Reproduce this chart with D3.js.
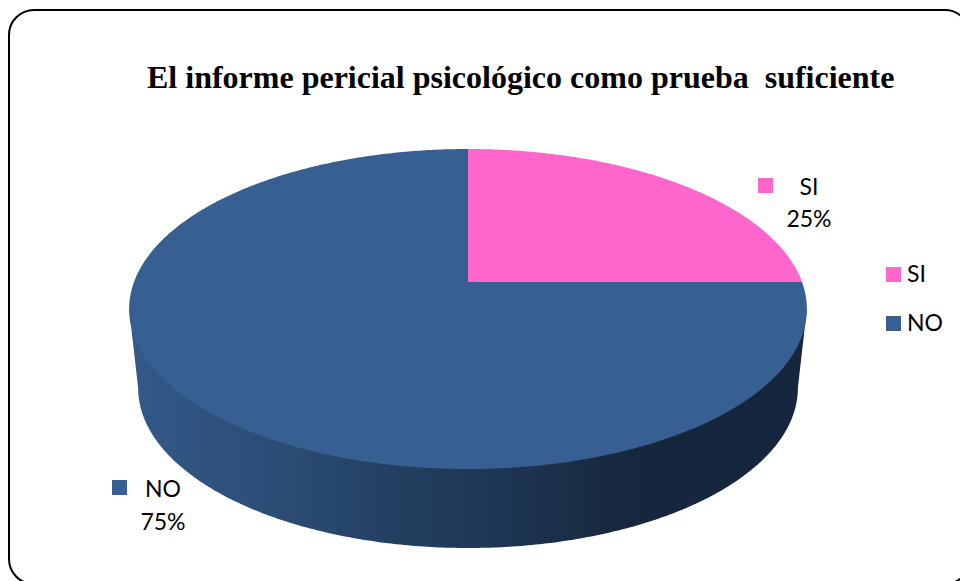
<!DOCTYPE html>
<html>
    <head>
        <meta charset="utf-8">
        <style>
            html, body { margin: 0; padding: 0; background: #fff; overflow: hidden; }
            svg { display: block; }
            .title { font: bold 32px "Liberation Serif", serif; fill: #000; white-space: pre; }
            .lbl { font: 23px Lato, sans-serif; fill: #000; }
        </style>
    </head>
    <body>
        <script src="https://cdnjs.cloudflare.com/ajax/libs/d3/7.8.5/d3.min.js"></script>
        <script>
            var categories = ["SI", "NO"];
            var values = [25, 75];
            var titleText = "El informe pericial psicológico como prueba  suficiente";

            var width = 960, height = 581;

            var svg = d3.select("body").append("svg")
                .attr("width", width)
                .attr("height", height);

            var color = d3.scaleOrdinal().domain(categories).range(["#ff66cc", "#375f92"]);

            // side gradient runs left to right across the pie
            var grad = svg.append("defs").append("linearGradient")
                .attr("id", "side")
                .attr("gradientUnits", "userSpaceOnUse")
                .attr("x1", 128).attr("x2", 807).attr("y1", 0).attr("y2", 0);
            [[0, "#345a8a"], [0.12, "#2f527e"], [0.26, "#2a4a72"], [0.4, "#223f60"],
             [0.52, "#1f3856"], [0.66, "#1a2d47"], [0.76, "#16263c"], [1, "#16263c"]].forEach(function(s) {
                grad.append("stop").attr("offset", s[0]).attr("stop-color", s[1]);
            });

            // frame, runs off the right and bottom of the picture
            svg.append("rect")
                .attr("x", 9).attr("y", 10)
                .attr("width", 961).attr("height", 574)
                .attr("rx", 25).attr("ry", 25)
                .attr("fill", "#fff")
                .attr("stroke", "#000")
                .attr("stroke-width", 2);

            svg.append("text")
                .attr("class", "title")
                .attr("x", 147).attr("y", 88)
                .text(titleText);

            // tilted disc: a circle under a perspective map, so the pie centre sits above the ellipse centre
            var cx = 468, apexY = 282, kx = 334, ka = 107.86, kc = -0.16875;
            function project(a) {
                var u = Math.sin(a), v = -Math.cos(a), w = kc * v + 1;
                return [cx + kx * u / w, (ka * v + apexY) / w];
            }

            var ellipseCy = 309, bottomCy = 388, bottomScale = 330 / 339;
            function projectBottom(a) {
                var p = project(a);
                return [cx + (p[0] - cx) * bottomScale, p[1] - ellipseCy + bottomCy];
            }

            var line = d3.line();
            var pie = d3.pie().sort(null);
            var slices = pie(values);

            function sweep(a0, a1, fn) {
                var n = Math.max(2, Math.ceil(Math.abs(a1 - a0) / 0.01));
                return d3.range(n + 1).map(function(i) { return fn(a0 + (a1 - a0) * i / n); });
            }

            // side wall: lower half of the bottom ellipse joined to the widest points of the top one
            var wall = [project(Math.PI * 0.5 + 0.17)]
                .concat(sweep(Math.PI * 0.5 + 0.17, Math.PI * 1.5 - 0.17, projectBottom))
                .concat([project(Math.PI * 1.5 - 0.17)]);
            svg.append("path")
                .attr("d", line(wall) + "Z")
                .attr("fill", "url(#side)");

            // top faces
            svg.selectAll("path.slice")
                .data(slices)
                .enter().append("path")
                .attr("class", "slice")
                .attr("fill", function(d, i) { return color(categories[i]); })
                .attr("d", function(d) {
                    return line([[cx, apexY]].concat(sweep(d.startAngle, d.endAngle, project))) + "Z";
                });

            // data labels
            var fmt = function(v) { return Math.round(v / d3.sum(values) * 100) + "%"; };
            var labelX = [809, 163], nameY = [195, 497], pctY = [227, 530], swatchX = [758, 112], swatchY = [178, 480];
            categories.forEach(function(c, i) {
                svg.append("rect")
                    .attr("x", swatchX[i]).attr("y", swatchY[i])
                    .attr("width", 15).attr("height", 15)
                    .attr("fill", color(c));
                svg.append("text").attr("class", "lbl")
                    .attr("x", labelX[i]).attr("y", nameY[i])
                    .attr("text-anchor", "middle")
                    .text(c);
                svg.append("text").attr("class", "lbl")
                    .attr("x", labelX[i]).attr("y", pctY[i])
                    .attr("text-anchor", "middle")
                    .text(fmt(values[i]));
            });

            // legend
            var legend = svg.selectAll("g.legend")
                .data(categories)
                .enter().append("g")
                .attr("class", "legend")
                .attr("transform", function(d, i) { return "translate(886," + (267 + i * 49) + ")"; });
            legend.append("rect")
                .attr("width", 15).attr("height", 15)
                .attr("fill", function(d) { return color(d); });
            legend.append("text")
                .attr("class", "lbl")
                .attr("x", 21).attr("y", 15)
                .text(function(d) { return d; });
        </script>
    </body>
</html>
